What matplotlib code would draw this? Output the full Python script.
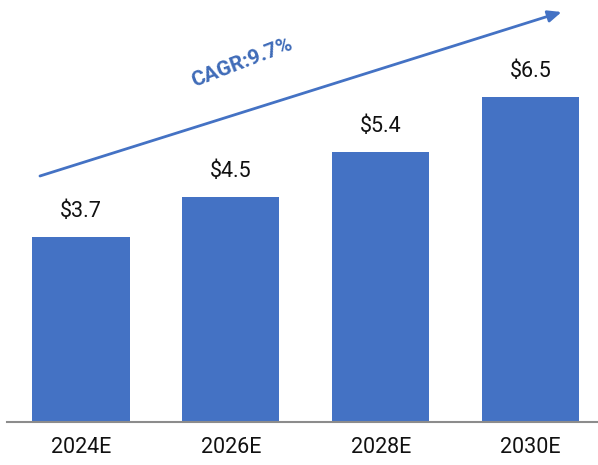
import matplotlib
matplotlib.use('Agg')
import matplotlib.pyplot as plt

years = ['2024E', '2026E', '2028E', '2030E']
values = [3.7, 4.5, 5.4, 6.5]
cagr_text = 'CAGR:9.7%'

plt.rcParams['font.family'] = ['Roboto', 'DejaVu Sans']

fig = plt.figure(figsize=(5.98, 4.65), dpi=100)
ax = fig.add_axes([7 / 598, 43 / 465, 1 - 7 / 598, 422 / 465])

x = list(range(len(years)))
bars = ax.bar(x, values, width=0.65, color='#4472C4')

for xi, v in zip(x, values):
    ax.annotate('$' + str(v), (xi, v), xytext=(0, 11), textcoords='offset points',
                ha='center', va='bottom', fontsize=15.5, color='#111111')

ax.set_xlim(-0.493, 3.45)
ax.set_ylim(0, 8.44)
ax.set_xticks(x)
ax.set_xticklabels(years, fontsize=15.5, color='#111111')
ax.tick_params(axis='x', length=0, pad=11)
ax.set_yticks([])
for s in ['top', 'right', 'left']:
    ax.spines[s].set_visible(False)
ax.spines['bottom'].set_color('#8c8c8c')
ax.spines['bottom'].set_linewidth(1.5)

# growth arrow
ax.annotate('', xy=(3.207, 8.2), xytext=(-0.273, 4.92),
            arrowprops=dict(arrowstyle='-|>,head_length=0.8,head_width=0.35',
                            color='#4472C4', lw=2, shrinkA=0, shrinkB=0))
ax.text(1.073, 7.18, cagr_text, rotation=21, ha='center', va='center',
        fontsize=15, fontweight='bold', color='#3f6bb8')

fig.savefig('out.png', dpi=100)
